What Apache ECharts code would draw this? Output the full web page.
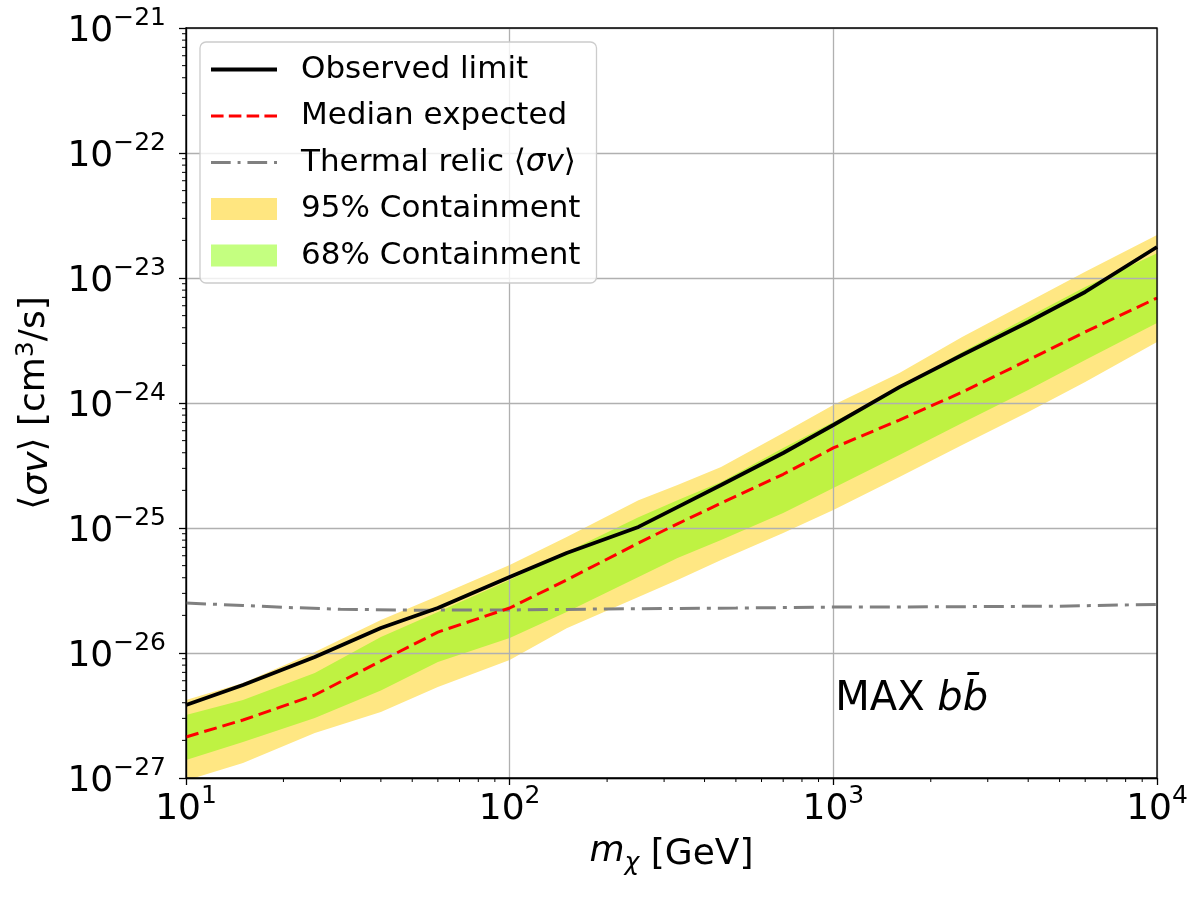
<!DOCTYPE html>
<html><head><meta charset="utf-8">
<script src="https://cdn.jsdelivr.net/npm/echarts@6/dist/echarts.min.js"></script>
<style>html,body{margin:0;padding:0;background:#fff}#c{width:1200px;height:900px}#err{position:absolute;left:300px;top:400px;font:14px monospace;color:#c00;white-space:pre-wrap;width:850px}</style>
</head><body><div id="c"></div><div id="err"></div>
<script>
window.onerror = function(m, s, l, c, e){ document.getElementById('err').textContent += 'ERR: ' + m + '\n'; };
// ---- data, <σv> in cm^3/s ----
const mass = [10, 15, 25, 40, 60, 100, 150, 250, 330, 450, 700, 1000, 1600, 2500, 4000, 6000, 10000];
const observed = [3.84e-27, 5.55e-27, 9.29e-27, 1.585e-26, 2.29e-26, 4.06e-26, 6.31e-26, 1.02e-25, 1.47e-25, 2.21e-25, 3.98e-25, 6.67e-25, 1.34e-24, 2.42e-24, 4.45e-24, 7.73e-24, 1.77e-23];
const median = [2.13e-27, 2.91e-27, 4.61e-27, 8.63e-27, 1.47e-26, 2.29e-26, 3.84e-26, 7.59e-26, 1.08e-25, 1.58e-25, 2.69e-25, 4.37e-25, 7.31e-25, 1.22e-24, 2.21e-24, 3.70e-24, 6.92e-24];
const band68Upper = [3.19e-27, 4.21e-27, 6.92e-27, 1.34e-26, 2.13e-26, 3.84e-26, 6.43e-26, 1.22e-25, 1.67e-25, 2.33e-25, 4.37e-25, 7.05e-25, 1.32e-24, 2.56e-24, 4.88e-24, 8.47e-24, 1.58e-23];
const band68Lower = [1.39e-27, 1.94e-27, 3.02e-27, 5.01e-27, 8.47e-27, 1.32e-26, 2.13e-26, 4.06e-26, 5.75e-26, 8.02e-26, 1.32e-25, 2.09e-25, 3.84e-25, 6.92e-25, 1.27e-24, 2.21e-24, 4.37e-24];
const band95Upper = [4.21e-27, 5.75e-27, 1.02e-26, 1.84e-26, 2.86e-26, 5.06e-26, 8.47e-26, 1.67e-25, 2.21e-25, 3.08e-25, 5.75e-25, 9.64e-25, 1.74e-24, 3.37e-24, 6.43e-24, 1.12e-23, 2.21e-23];
const band95Lower = [9.55e-28, 1.32e-27, 2.29e-27, 3.37e-27, 5.35e-27, 8.79e-27, 1.58e-26, 2.81e-26, 3.84e-26, 5.55e-26, 9.12e-26, 1.39e-25, 2.56e-25, 4.61e-25, 8.47e-25, 1.47e-24, 3.08e-24];
const relicMass = [10, 15, 20, 30, 50, 100, 200, 500, 1000, 2000, 5000, 10000];
const relicSigmaV = [2.51e-26, 2.40e-26, 2.32e-26, 2.24e-26, 2.20e-26, 2.21e-26, 2.25e-26, 2.29e-26, 2.33e-26, 2.34e-26, 2.37e-26, 2.45e-26];
const xMajorTicks = [10, 100, 1000, 10000];
const yMajorTicks = [1e-27, 1e-26, 1e-25, 1e-24, 1e-23, 1e-22, 1e-21];
const legendNames = ['Observed limit', 'Median expected', 'Thermal relic ⟨σv⟩', '95% Containment', '68% Containment'];
const annotationPos = [1000, 4.2e-27];

// ECharts' log axis rounds to 20 decimals, so <σv> is plotted in units of 1e-27 cm^3/s
// and the tick labels are shifted back by the same exponent.
const Y_EXP = 27;
const Y_UNIT = 1e-27;
const ys = v => v / Y_UNIT;
const yArr = a => a.map(ys);

const xMinorTicks = [];
for (let d = 0; d < xMajorTicks.length - 1; d++) for (let k = 2; k <= 9; k++) xMinorTicks.push(k * xMajorTicks[d]);
const yMinorTicks = [];
for (let d = 0; d < yMajorTicks.length - 1; d++) for (let k = 2; k <= 9; k++) yMinorTicks.push(k * ys(yMajorTicks[d]));

const FONT = "'DejaVu Sans', sans-serif";
const pairs = (xs, yv) => xs.map((x, i) => [x, yv[i]]);
const expStr = e => String(e).replace('-', '\u2212');

const yMin = ys(yMajorTicks[0]);
const yMax = ys(yMajorTicks[yMajorTicks.length - 1]);
const xMin = xMajorTicks[0];

// legend line samples (solid, dashed, dash-dot) as path icons
const ICON_SOLID = 'path://M0,0h66v4h-66z';
const ICON_DASH = 'path://M0,0h12v3h-12z M17,0h12v3h-12z M34,0h12v3h-12z M51,0h12v3h-12z';
const ICON_DASHDOT = 'path://M0,0h20v3h-20z M27,0h3v3h-3z M37,0h20v3h-20z M64,0h3v3h-3z';

function bandSeries(name, upperRaw, lowerRaw, color) {
  const upper = yArr(upperRaw), lower = yArr(lowerRaw);
  return {
    name, type: 'custom', z: 1, silent: true,
    itemStyle: { color },
    data: mass.map((m, i) => [m, upper[i], lower[i]]),
    renderItem(params, api) {
      if (params.dataIndex !== 0) return null;
      const top = mass.map((m, i) => api.coord([m, upper[i]]));
      const bot = mass.map((m, i) => api.coord([m, lower[i]])).reverse();
      const cs = params.coordSys;
      return {
        type: 'group',
        clipPath: { type: 'rect', shape: { x: cs.x, y: cs.y, width: cs.width, height: cs.height } },
        children: [{ type: 'polygon', shape: { points: top.concat(bot) }, style: { fill: color } }]
      };
    }
  };
}

const tickRich = {
  b: { fontFamily: FONT, fontSize: 36, color: '#000', lineHeight: 44, verticalAlign: 'bottom' },
  s: { fontFamily: FONT, fontSize: 25, color: '#000', lineHeight: 26, verticalAlign: 'top' }
};

try {
const chart = echarts.init(document.getElementById('c'), null, { renderer: 'canvas' });
chart.setOption({
  animation: false,
  backgroundColor: '#fff',
  grid: { left: 186, right: 43, top: 28, bottom: 122, show: true, borderColor: '#000', borderWidth: 1.3, backgroundColor: 'transparent', z: 5 },
  xAxis: {
    type: 'log', logBase: 10, min: xMin, max: xMajorTicks[xMajorTicks.length - 1], z: 2,
    name: '{i|m}{sub|χ} [GeV]', nameLocation: 'middle', nameGap: 56,
    nameTextStyle: {
      fontFamily: FONT, fontSize: 36, color: '#000',
      rich: {
        i: { fontFamily: FONT, fontStyle: 'italic', fontSize: 36, lineHeight: 42, verticalAlign: 'top' },
        sub: { fontFamily: FONT, fontStyle: 'italic', fontSize: 25, lineHeight: 26, verticalAlign: 'bottom' }
      }
    },
    axisLine: { show: true, lineStyle: { color: '#000', width: 1.3 } },
    axisTick: { show: true, inside: false, length: 7, lineStyle: { color: '#000', width: 1.3 } },
    axisLabel: { margin: 6, formatter: v => '{b|10}{s|' + expStr(Math.round(Math.log10(v))) + '}', rich: tickRich },
    splitLine: { show: true, lineStyle: { color: '#b0b0b0', width: 1.3 } }
  },
  yAxis: {
    type: 'log', logBase: 10, min: yMin, max: yMax, z: 2,
    name: '⟨{i|σv}⟩ [cm{sup|3}/s]', nameLocation: 'middle', nameGap: 130,
    nameTextStyle: {
      fontFamily: FONT, fontSize: 36, color: '#000',
      rich: {
        i: { fontFamily: FONT, fontStyle: 'italic', fontSize: 36, lineHeight: 42, verticalAlign: 'bottom' },
        sup: { fontFamily: FONT, fontSize: 25, lineHeight: 26, verticalAlign: 'top' }
      }
    },
    axisLine: { show: true, lineStyle: { color: '#000', width: 1.3 } },
    axisTick: { show: true, inside: false, length: 7, lineStyle: { color: '#000', width: 1.3 } },
    axisLabel: { margin: 20, formatter: v => '{b|10}{s|' + expStr(Math.round(Math.log10(v)) - Y_EXP) + '}', rich: tickRich },
    splitLine: { show: true, lineStyle: { color: '#b0b0b0', width: 1.3 } }
  },
  legend: {
    orient: 'vertical', left: 200, top: 42, z: 10,
    padding: [12, 16, 12, 11], itemGap: 15.5, itemWidth: 66, itemHeight: 22,
    backgroundColor: 'rgba(255,255,255,0.8)', borderColor: '#cccccc', borderWidth: 1.3, borderRadius: 6,
    textStyle: {
      fontFamily: FONT, fontSize: 31, color: '#000', lineHeight: 30, padding: [0, 0, 0, 19],
      rich: { i: { fontFamily: FONT, fontStyle: 'italic', fontSize: 31, color: '#000', lineHeight: 30 } }
    },
    formatter: n => n === legendNames[2] ? 'Thermal relic ⟨{i|σv}⟩' : n,
    data: [
      { name: legendNames[0], icon: ICON_SOLID },
      { name: legendNames[1], icon: ICON_DASH },
      { name: legendNames[2], icon: ICON_DASHDOT },
      { name: legendNames[3], icon: 'rect', itemStyle: { color: '#FFE680' } },
      { name: legendNames[4], icon: 'rect', itemStyle: { color: '#C4FF80' } }
    ]
  },
  series: [
    bandSeries(legendNames[3], band95Upper, band95Lower, '#FFE783'),
    bandSeries(legendNames[4], band68Upper, band68Lower, '#BFF242'),
    {
      name: legendNames[2], type: 'line', z: 3, symbol: 'none', showSymbol: false, silent: true,
      data: pairs(relicMass, yArr(relicSigmaV)),
      lineStyle: { color: '#808080', width: 3, type: [20, 7, 4, 7] }, itemStyle: { color: '#808080' }
    },
    {
      name: legendNames[1], type: 'line', z: 3, symbol: 'none', showSymbol: false, silent: true,
      data: pairs(mass, yArr(median)),
      lineStyle: { color: '#ff0000', width: 3, type: [13, 6] }, itemStyle: { color: '#ff0000' }
    },
    {
      name: legendNames[0], type: 'line', z: 4, symbol: 'none', showSymbol: false, silent: true,
      data: pairs(mass, yArr(observed)),
      lineStyle: { color: '#000', width: 3.8 }, itemStyle: { color: '#000' }
    },
    {
      type: 'custom', z: 6, silent: true, data: [[xMin, yMin]],
      renderItem(params, api) {
        const ch = [];
        const base = api.coord([xMin, yMin]);
        xMinorTicks.forEach(v => { const p = api.coord([v, yMin]); ch.push({ type: 'line', shape: { x1: p[0], y1: base[1], x2: p[0], y2: base[1] + 4 }, style: { stroke: '#000', lineWidth: 1 } }); });
        yMinorTicks.forEach(v => { const p = api.coord([xMin, v]); ch.push({ type: 'line', shape: { x1: base[0], y1: p[1], x2: base[0] - 4, y2: p[1] }, style: { stroke: '#000', lineWidth: 1 } }); });
        return { type: 'group', children: ch };
      }
    },
    {
      type: 'custom', z: 6, silent: true, data: [[annotationPos[0], ys(annotationPos[1])]],
      renderItem(params, api) {
        const p = api.coord([annotationPos[0], ys(annotationPos[1])]);
        return {
          type: 'text', x: p[0] + 2, y: p[1],
          style: {
            text: '{n|MAX }{i|bb\u0304}', verticalAlign: 'middle', align: 'left',
            rich: {
              n: { fontFamily: FONT, fontSize: 40, fill: '#000' },
              i: { fontFamily: FONT, fontStyle: 'italic', fontSize: 40, fill: '#000' }
            }
          }
        };
      }
    }
  ]
});
} catch (e) { document.getElementById('err').textContent += 'CATCH: ' + e.message + '\n' + e.stack; }
</script></body></html>
